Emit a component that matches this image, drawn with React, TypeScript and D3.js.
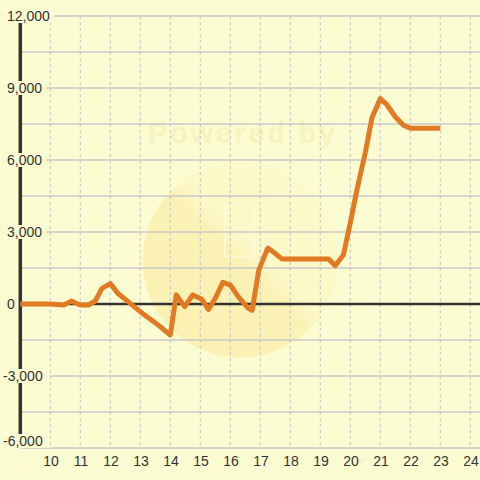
import React from "react";
import * as d3 from "d3";

const xValues = [9, 10, 10.45, 10.7, 11, 11.27, 11.5, 11.72, 12, 12.25, 12.55, 13, 13.3, 13.6, 14, 14.2, 14.48, 14.75, 15.05, 15.27, 15.5, 15.75, 16, 16.27, 16.6, 16.73, 16.95, 17.25, 17.5, 17.72, 19.27, 19.5, 19.77, 20, 20.22, 20.5, 20.72, 21, 21.22, 21.5, 21.77, 22, 23];
const yValues = [0, 0, -40, 120, -40, -40, 125, 650, 850, 450, 140, -320, -600, -880, -1290, 380, -110, 380, 200, -230, 240, 900, 790, 300, -180, -260, 1420, 2330, 2100, 1880, 1880, 1600, 2040, 3380, 4750, 6300, 7750, 8560, 8300, 7800, 7450, 7320, 7320];
const xTicks = [10, 11, 12, 13, 14, 15, 16, 17, 18, 19, 20, 21, 22, 23, 24];
const yLabelTicks = [12000, 9000, 6000, 3000, 0, -3000, -6000];
const yGridTicks = d3.range(-6000, 12001, 1500);

const W = 480, H = 480;
const BG = "#fcfcd2";

export default function App() {
  const x = d3.scaleLinear().domain([9, 24]).range([20.3, 470.3]);
  const y = d3.scaleLinear().domain([-6000, 12000]).range([448, 16]);
  const line = d3.line<number>().x((_, i) => x(xValues[i])).y((d) => y(d));
  const fmt = d3.format(",");
  const axisX = x(9);
  return (
    <svg width={W} height={H} style={{ position: "absolute", left: 0, top: 0, display: "block" }}>
      <defs>
        <linearGradient id="wm" x1="0" y1="1" x2="1" y2="0">
          <stop offset="0" stopColor="#fbeeaa" stopOpacity={0.8} />
          <stop offset="0.5" stopColor="#fbefae" stopOpacity={0.8} />
          <stop offset="0.56" stopColor="#fcf6c2" stopOpacity={0.65} />
          <stop offset="1" stopColor="#fcf8c8" stopOpacity={0.65} />
        </linearGradient>
      </defs>
      <rect x={0} y={0} width={W} height={H} fill={BG} />
      {/* watermark */}
      <circle cx={240} cy={260} r={97.5} fill="url(#wm)" />
      <text x={148} y={143} fontFamily="Liberation Sans, Arial, sans-serif" fontWeight="bold" fontSize={29} textLength={187} fill="#f8f2bc" opacity={0.9}>Powered by</text>
      <rect x={225} y={205} width={30} height={52} rx={2} fill="none" stroke="#fdfbe0" strokeWidth={1.5} opacity={0.8} />
      {/* grid */}
      {yGridTicks.map((t) => (
        <line key={"h" + t} x1={axisX} x2={W} y1={y(t)} y2={y(t)} stroke="#c8c8c8" strokeWidth={1.3} />
      ))}
      {xTicks.map((t) => (
        <line key={"v" + t} x1={x(t)} x2={x(t)} y1={16} y2={448} stroke="#c8c8c8" strokeWidth={1.2} strokeDasharray="3,3" />
      ))}
      {/* axes */}
      <line x1={axisX} x2={axisX} y1={16} y2={448} stroke="#333" strokeWidth={3.5} />
      <line x1={axisX} x2={W} y1={y(0)} y2={y(0)} stroke="#333" strokeWidth={2.5} />
      {/* data line */}
      <path d={line(yValues) || ""} fill="none" stroke="#e07b24" strokeWidth={5} strokeLinejoin="round" strokeLinecap="butt" />
      {/* y labels */}
      {yLabelTicks.map((t) => {
        const lx = t < 0 ? 3 : 7;
        const label = fmt(t).replace("−", "-");
        const wdt = label.length * 7.8;
        const cy = Math.min(y(t), 441);
        return (
          <g key={"yl" + t}>
            <rect x={lx} y={cy - 7} width={wdt} height={14} fill={BG} />
            <text x={lx} y={cy} dy="0.35em" fontFamily="Liberation Sans, Arial, sans-serif" fontSize={14} fill="#333">{label}</text>
          </g>
        );
      })}
      {/* x labels */}
      {xTicks.map((t) => (
        <text key={"xl" + t} x={x(t) + 0.7} y={461} dy="0.35em" textAnchor="middle" fontFamily="Liberation Sans, Arial, sans-serif" fontSize={14} fill="#333">{t}</text>
      ))}
    </svg>
  );
}
